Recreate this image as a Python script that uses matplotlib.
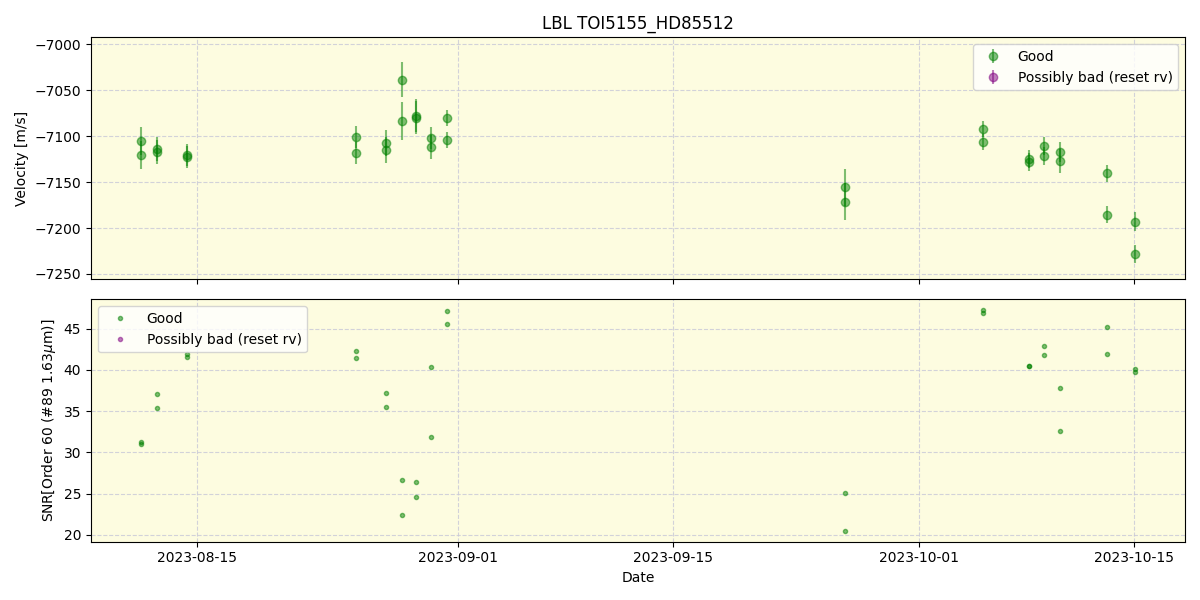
import numpy as np
import pandas as pd
import matplotlib
matplotlib.use("Agg")
from matplotlib import pyplot as plt
import matplotlib.dates as mdates

# observation times (fractional days after 2023-08-15)
t_days = [-3.65, -3.65, -2.6, -2.6, -0.65, -0.65,
          10.35, 10.35, 12.3, 12.3, 13.35, 13.35, 14.26, 14.26,
          15.23, 15.23, 16.28, 16.28,
          42.2, 42.2, 51.17, 51.17, 54.17, 54.17, 55.15, 55.15,
          56.2, 56.2, 59.2, 59.2, 61.07, 61.07]
rv = [-7105, -7120.6, -7114, -7117, -7120.6, -7123,
      -7100.9, -7118.4, -7107.7, -7114.8, -7038.4, -7083.3, -7077.5, -7080.0,
      -7101.9, -7111.8, -7080.2, -7104,
      -7155.7, -7171.1, -7092.1, -7106.4, -7125, -7128, -7110.6, -7121.5,
      -7116.8, -7127, -7140.4, -7185.4, -7193, -7228]
rv_err = [15, 15, 13, 13, 12, 12,
          12, 12, 14, 14, 19, 21, 18, 18,
          12, 13, 9, 9,
          20, 20, 9, 9, 10, 10, 10, 10,
          11, 13, 9, 9, 10, 10]
snr = [31.3, 31.05, 37.1, 35.4, 41.9, 41.6,
       42.3, 41.4, 37.2, 35.5, 26.7, 22.4, 26.45, 24.6,
       40.3, 31.8, 47.1, 45.5,
       25.1, 20.5, 47.2, 46.9, 40.5, 40.4, 42.9, 41.8,
       37.8, 32.6, 45.2, 41.9, 40.1, 39.7]

t0 = pd.Timestamp("2023-08-15")
dates = [t0 + pd.Timedelta(days=d) for d in t_days]

fig, (ax1, ax2) = plt.subplots(2, 1, figsize=(12, 6), dpi=100, sharex=True)
bg = "#fdfce0"

ax1.errorbar(dates, rv, yerr=rv_err, fmt="o", color="green", alpha=0.5, label="Good")
ax1.errorbar([], [], yerr=[], fmt="o", color="purple", alpha=0.5, label="Possibly bad (reset rv)")
ax1.set_ylabel("Velocity [m/s]")
ax1.set_title("LBL TOI5155_HD85512")
ax1.set_ylim(-7256, -6992)
ax1.legend(loc="upper right")

ax2.plot(dates, snr, ".", color="green", alpha=0.5, label="Good")
ax2.plot([], [], ".", color="purple", alpha=0.5, label="Possibly bad (reset rv)")
ax2.set_ylabel("SNR[Order 60 (#89 1.63$\\mu$m)]")
ax2.set_xlabel("Date")
ax2.legend(loc="upper left", handlelength=2.3)

for ax in (ax1, ax2):
    ax.set_facecolor(bg)
    ax.grid(True, linestyle="--", color="#c8c8d8", alpha=0.8)

ax2.xaxis.set_major_locator(mdates.DayLocator(bymonthday=[1, 15]))
ax2.xaxis.set_major_formatter(mdates.DateFormatter("%Y-%m-%d"))

plt.tight_layout()
plt.savefig("out.png")
